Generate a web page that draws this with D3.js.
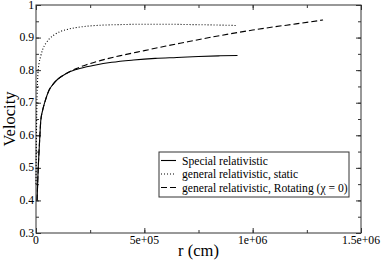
<!DOCTYPE html>
<html>
<head>
<meta charset="utf-8">
<script src="https://cdn.jsdelivr.net/npm/d3@7"></script>
<style>
  body { margin: 0; background: #fff; }
  svg { display: block; font-family: "Liberation Serif", "DejaVu Serif", serif; }
</style>
</head>
<body>
<div id="chart"></div>
<script>
// values
const specialR = [5000, 8000, 11000, 14000, 18000, 22000, 30000, 40000, 60000, 80000, 100000, 140000, 190000, 270000, 350000, 450000, 550000, 650000, 750000, 850000, 930000];
const specialV = [0.40, 0.46, 0.51, 0.55, 0.60, 0.645, 0.675, 0.70, 0.738, 0.758, 0.772, 0.79, 0.803, 0.815, 0.824, 0.831, 0.836, 0.839, 0.842, 0.844, 0.845];

const staticR = [0, 2000, 5000, 9000, 14000, 21000, 30000, 45000, 60000, 83000, 110000, 144000, 222000, 300000, 400000, 500000, 600000, 700000, 800000, 930000];
const staticV = [0.45, 0.6, 0.72, 0.79, 0.82, 0.841, 0.862, 0.882, 0.895, 0.908, 0.918, 0.925, 0.934, 0.938, 0.940, 0.941, 0.941, 0.940, 0.939, 0.937];

const rotR = [5000, 8000, 11000, 14000, 18000, 22000, 30000, 40000, 60000, 80000, 100000, 140000, 190000, 230000, 300000, 400000, 500000, 600000, 700000, 800000, 900000, 1000000, 1100000, 1200000, 1325000];
const rotV = [0.40, 0.46, 0.51, 0.55, 0.60, 0.645, 0.675, 0.70, 0.738, 0.758, 0.772, 0.79, 0.806, 0.816, 0.83, 0.846, 0.86, 0.874, 0.887, 0.90, 0.912, 0.923, 0.933, 0.942, 0.954];

const xTicks = [0, 500000, 1000000, 1500000];
const xTickLabels = ["0", "5e+05", "1e+06", "1.5e+06"];
const yTicks = [0.3, 0.4, 0.5, 0.6, 0.7, 0.8, 0.9, 1];
const yTickLabels = ["0.3", "0.4", "0.5", "0.6", "0.7", "0.8", "0.9", "1"];

const legendLabels = ["Special relativistic", "general relativistic, static", "general relativistic, Rotating (\u03c7 = 0)"];

const width = 381, height = 263;
const margin = {left: 36, top: 5, right: 20, bottom: 30};
const innerW = width - margin.left - margin.right;
const innerH = height - margin.top - margin.bottom;

const svg = d3.select("#chart").append("svg")
    .attr("width", width)
    .attr("height", height);

const g = svg.append("g")
    .attr("transform", `translate(${margin.left},${margin.top})`);

const x = d3.scaleLinear().domain([0, 1500000]).range([0, innerW]);
const y = d3.scaleLinear().domain([0.3, 1]).range([innerH, 0]);

const axisColor = "#333";

// minor + major ticks, all pointing inward on every side
const xMinor = d3.range(0, 1500001, 250000);
const yMinor = d3.range(0.3, 1.0001, 0.05);

function drawAxis(axis, transform, minorVals, majorVals) {
    const a = g.append("g").attr("transform", transform);
    a.call(axis.tickValues(minorVals).tickSize(-3).tickFormat(""));
    a.call(ax => ax.select(".domain").remove());
    const b = g.append("g").attr("transform", transform);
    b.call(axis.tickValues(majorVals).tickSize(-5).tickFormat(""));
    b.call(ax => ax.select(".domain").remove());
    g.selectAll(".tick line").attr("stroke", axisColor);
}

drawAxis(d3.axisBottom(x), `translate(0,${innerH})`, xMinor, xTicks);
drawAxis(d3.axisTop(x), "translate(0,0)", xMinor, xTicks);
drawAxis(d3.axisLeft(y), "translate(0,0)", yMinor, yTicks);
drawAxis(d3.axisRight(y), `translate(${innerW},0)`, yMinor, yTicks);

// tick labels
g.append("g").selectAll("text")
    .data(xTicks)
    .enter().append("text")
    .attr("x", d => x(d))
    .attr("y", innerH + 11)
    .attr("text-anchor", "middle")
    .attr("font-size", 11.7)
    .text((d, i) => xTickLabels[i]);

g.append("g").selectAll("text")
    .data(yTicks)
    .enter().append("text")
    .attr("x", -2)
    .attr("y", d => y(d))
    .attr("dy", "0.3em")
    .attr("text-anchor", "end")
    .attr("font-size", 11.7)
    .text((d, i) => yTickLabels[i]);

// frame
g.append("rect")
    .attr("width", innerW)
    .attr("height", innerH)
    .attr("fill", "none")
    .attr("stroke", axisColor)
    .attr("stroke-width", 1);

// curves
const line = d3.line()
    .x(d => x(d[0]))
    .y(d => y(d[1]))
    .curve(d3.curveMonotoneX);

const series = [
    {r: specialR, v: specialV, dash: null},
    {r: staticR, v: staticV, dash: "1,2"},
    {r: rotR, v: rotV, dash: "6,3"}
];

series.forEach(s => {
    g.append("path")
        .datum(s.r.map((r, i) => [r, s.v[i]]))
        .attr("d", line)
        .attr("fill", "none")
        .attr("stroke", "#000")
        .attr("stroke-width", 1.1)
        .attr("stroke-dasharray", s.dash);
});

// axis titles
svg.append("text")
    .attr("x", margin.left + innerW / 2)
    .attr("y", 256)
    .attr("text-anchor", "middle")
    .attr("font-size", 16.5)
    .text("r (cm)");

svg.append("text")
    .attr("transform", `translate(15,${margin.top + innerH / 2}) rotate(-90)`)
    .attr("text-anchor", "middle")
    .attr("font-size", 16.5)
    .text("Velocity");

// legend
const legend = svg.append("g").attr("transform", "translate(159,152)");
legend.append("rect")
    .attr("width", 190)
    .attr("height", 45)
    .attr("fill", "#fff")
    .attr("stroke", axisColor)
    .attr("stroke-width", 1);

legendLabels.forEach((lab, i) => {
    const ly = 8.5 + i * 13.5;
    legend.append("line")
        .attr("x1", 2).attr("x2", 17)
        .attr("y1", ly).attr("y2", ly)
        .attr("stroke", "#000")
        .attr("stroke-width", 1.1)
        .attr("stroke-dasharray", series[i].dash);
    legend.append("text")
        .attr("x", 23)
        .attr("y", ly)
        .attr("dy", "0.35em")
        .attr("font-size", 11.6)
        .text(lab);
});
</script>
</body>
</html>
